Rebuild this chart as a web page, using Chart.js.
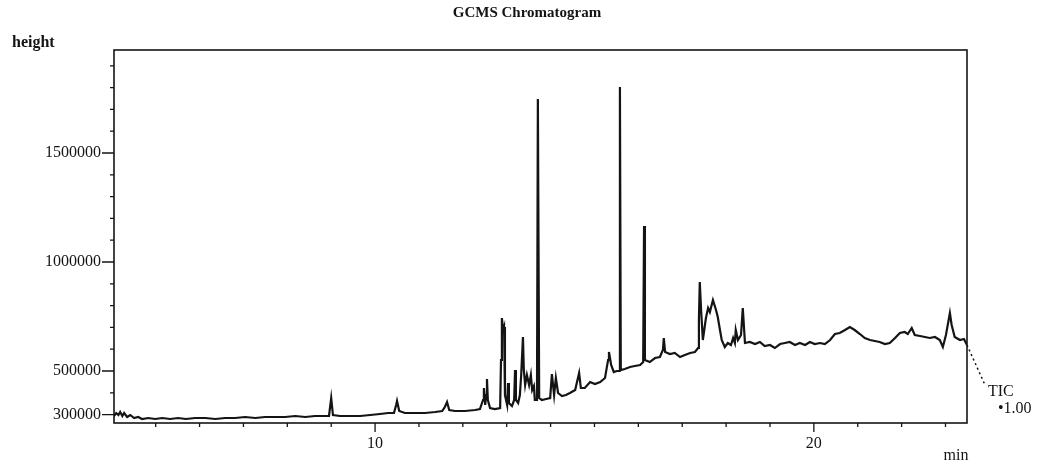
<!DOCTYPE html>
<html>
<head>
<meta charset="utf-8">
<title>GCMS Chromatogram</title>
<script src="https://cdn.jsdelivr.net/npm/chart.js@4.4.1/dist/chart.umd.min.js"></script>
<style>
  html, body { margin: 0; padding: 0; background: #fff; }
  canvas { display: block; }
</style>
</head>
<body>
<canvas id="chrom" width="1044" height="470"></canvas>
<script>
// retention time (min) and TIC height
const retentionTimes = [
  4.05, 4.10, 4.15, 4.19, 4.24, 4.28, 4.35, 4.42, 4.51, 4.60, 4.69, 4.83, 4.99, 5.15, 5.33, 5.51, 5.69, 5.90,
  6.13, 6.36, 6.58, 6.81, 7.04, 7.27, 7.49, 7.72, 7.95, 8.18, 8.41, 8.63, 8.86, 8.95, 9.00, 9.04, 9.20, 9.43,
  9.66, 9.89, 10.11, 10.30, 10.43, 10.48, 10.50, 10.55, 10.68, 10.91, 11.14, 11.37, 11.53, 11.59, 11.64, 11.69,
  11.82, 12.05, 12.28, 12.39, 12.46, 12.48, 12.51, 12.53, 12.55, 12.57, 12.62, 12.73, 12.85, 12.87, 12.89, 12.92,
  12.94, 12.96, 13.01, 13.03, 13.05, 13.12, 13.17, 13.19, 13.21, 13.26, 13.30, 13.33, 13.37, 13.39, 13.42, 13.46,
  13.51, 13.55, 13.58, 13.62, 13.64, 13.69, 13.71, 13.74, 13.80, 13.90, 13.99, 14.03, 14.08, 14.12, 14.17, 14.26,
  14.35, 14.44, 14.56, 14.65, 14.69, 14.78, 14.90, 15.01, 15.13, 15.24, 15.31, 15.33, 15.38, 15.44, 15.51, 15.56,
  15.58, 15.60, 15.69, 15.81, 15.92, 16.04, 16.11, 16.13, 16.15, 16.26, 16.38, 16.49, 16.56, 16.58, 16.61, 16.72,
  16.83, 16.95, 17.06, 17.18, 17.29, 17.36, 17.38, 17.40, 17.43, 17.47, 17.54, 17.59, 17.63, 17.70, 17.77, 17.81,
  17.86, 17.90, 17.97, 18.04, 18.11, 18.16, 18.20, 18.22, 18.27, 18.34, 18.38, 18.43, 18.54, 18.66, 18.77, 18.88,
  19.00, 19.11, 19.23, 19.34, 19.45, 19.57, 19.68, 19.80, 19.91, 20.02, 20.14, 20.25, 20.37, 20.48, 20.59, 20.71,
  20.82, 20.93, 21.05, 21.16, 21.28, 21.39, 21.50, 21.62, 21.73, 21.85, 21.96, 22.07, 22.14, 22.23, 22.30, 22.42,
  22.53, 22.64, 22.76, 22.87, 22.94, 23.01, 23.10, 23.14, 23.21, 23.33, 23.42, 23.49
];
const ticHeights = [
  293600, 307300, 298200, 311900, 293600, 307300, 289000, 298200, 284400, 289000, 279800, 284400, 279800, 284400, 279800, 284400, 279800, 284400,
  284400, 279800, 284400, 284400, 289000, 284400, 289000, 289000, 289000, 293600, 289000, 293600, 293600, 293600, 376100, 298200, 293600, 293600,
  293600, 298200, 302800, 307300, 307300, 344000, 362400, 316500, 307300, 307300, 307300, 311900, 316500, 334900, 357800, 321100,
  316500, 316500, 321100, 325700, 367000, 422000, 344000, 389900, 463300, 367000, 330300, 325700, 330300, 550500, 743100, 688100,
  701800, 389900, 344000, 445000, 353200, 339400, 367000, 504600, 367000, 353200, 389900, 481600, 656000, 504600, 435800, 481600,
  435800, 481600, 412800, 431200, 367000, 367000, 1747600, 376100, 367000, 371600, 376100, 486200, 389900, 467900, 399100, 385300,
  389900, 399100, 412800, 490800, 422000, 422000, 449500, 440400, 449500, 467900, 550500, 587100, 527500, 495400, 500000, 500000,
  1802700, 504600, 509200, 518300, 522900, 527500, 541300, 1165100, 550500, 541300, 559600, 564200, 596300, 651400, 587100, 578000,
  582600, 564200, 573400, 582600, 587100, 605500, 733900, 908200, 779800, 642200, 743100, 789000, 770600, 825700, 779800, 747700,
  688100, 642200, 610100, 628400, 619300, 651400, 628400, 688100, 642200, 665100, 789000, 628400, 633000, 623800, 633000, 614700,
  619300, 605500, 623800, 628400, 633000, 619300, 628400, 619300, 633000, 623800, 628400, 623800, 642200, 669700, 674300, 688100,
  701800, 688100, 669700, 651400, 642200, 637600, 633000, 623800, 628400, 651400, 674300, 678900, 669700, 697200, 665100, 660500,
  656000, 651400, 656000, 642200, 610100, 665100, 766000, 711000, 656000, 642200, 646800, 619300
];
// dotted leader from the end of the trace down to the TIC label
const leaderTimes = [23.49, 23.90];
const leaderHeights = [619300, 435800];

// labelled ticks, and the minor tick steps between them
const yLabelled = [300000, 500000, 1000000, 1500000];
const xLabelled = [10, 20];
const yMinorStep = 100000;
const xMinorStep = 1;

const ink = '#141414';
const serif = "'Liberation Serif', 'DejaVu Serif', serif";

function stepTicks(scale, step) {
  const ticks = [];
  for (let v = Math.ceil(scale.min / step) * step; v <= scale.max; v += step) {
    ticks.push({ value: Math.round(v / step) * step });
  }
  scale.ticks = ticks;
}

// frame, tick marks and the loose texts round the plot
const decorations = {
  id: 'decorations',
  afterDraw(chart) {
    const ctx = chart.ctx;
    const a = chart.chartArea;
    const xs = chart.scales.x;
    const ys = chart.scales.y;
    ctx.save();
    ctx.strokeStyle = ink;
    ctx.lineWidth = 1.6;
    ctx.strokeRect(a.left, a.top, a.right - a.left, a.bottom - a.top);

    ctx.lineWidth = 1.3;
    ctx.beginPath();
    xs.ticks.forEach(t => {
      const px = xs.getPixelForValue(t.value);
      const len = xLabelled.includes(t.value) ? 9 : 4;
      ctx.moveTo(px, a.bottom);
      ctx.lineTo(px, a.bottom + len);
    });
    ys.ticks.forEach(t => {
      const py = ys.getPixelForValue(t.value);
      const len = yLabelled.includes(t.value) ? 12 : 4;
      ctx.moveTo(a.left, py);
      ctx.lineTo(a.left - len, py);
    });
    ctx.stroke();

    ctx.fillStyle = ink;
    ctx.textBaseline = 'middle';
    ctx.textAlign = 'center';
    ctx.font = 'bold 15px ' + serif;
    ctx.fillText('GCMS Chromatogram', 527, 13);
    ctx.textAlign = 'left';
    ctx.font = 'bold 16px ' + serif;
    ctx.fillText('height', 12, 43);
    ctx.font = '16px ' + serif;
    ctx.fillText('TIC', 988, 392);
    ctx.fillText('\u20221.00', 998, 409);
    ctx.textAlign = 'center';
    ctx.fillText('min', 956, 456);
    ctx.restore();
  }
};

const ctx = document.getElementById('chrom').getContext('2d');
const chart = new Chart(ctx, {
  type: 'line',
  data: {
    datasets: [
      {
        data: retentionTimes.map((t, i) => ({x: t, y: ticHeights[i]})),
        borderColor: ink,
        borderWidth: 2.2,
        pointRadius: 0,
        tension: 0,
        fill: false
      },
      {
        data: leaderTimes.map((t, i) => ({x: t, y: leaderHeights[i]})),
        borderColor: ink,
        borderWidth: 1.5,
        borderDash: [2, 3],
        pointRadius: 0,
        clip: false,
        fill: false
      }
    ]
  },
  plugins: [decorations],
  options: {
    responsive: false,
    animation: false,
    layout: { padding: { top: 50, right: 77, left: 0, bottom: 0 } },
    plugins: {
      legend: { display: false },
      title: { display: false },
      tooltip: { enabled: false }
    },
    scales: {
      x: {
        type: 'linear',
        min: 4.05,
        max: 23.49,
        grid: { display: false },
        border: { display: false },
        afterBuildTicks: s => stepTicks(s, xMinorStep),
        ticks: {
          autoSkip: false,
          maxRotation: 0,
          padding: 3,
          color: ink,
          font: { family: serif, size: 16 },
          callback: v => xLabelled.includes(v) ? String(v) : ''
        },
        afterFit: s => { s.height = 47; }
      },
      y: {
        type: 'linear',
        min: 261500,
        max: 1972500,
        grid: { display: false },
        border: { display: false },
        afterBuildTicks: s => stepTicks(s, yMinorStep),
        ticks: {
          autoSkip: false,
          padding: 5,
          color: ink,
          font: { family: serif, size: 16 },
          callback: v => yLabelled.includes(v) ? String(v) : ''
        },
        afterFit: s => { s.width = 114; }
      }
    }
  }
});
</script>
</body>
</html>
